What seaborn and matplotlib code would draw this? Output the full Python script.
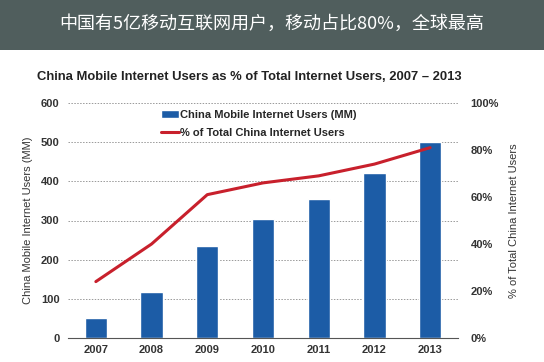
import numpy as np
import pandas as pd
import matplotlib
matplotlib.use("Agg")
import matplotlib.pyplot as plt
import seaborn as sns
from matplotlib.ticker import FuncFormatter, MultipleLocator, FixedLocator

# Data
years = ["2007", "2008", "2009", "2010", "2011", "2012", "2013"]
mobile_users = [50, 117, 235, 304, 355, 420, 500]        # MM
pct_of_total = [24, 40, 61, 66, 69, 74, 81]              # %

banner_text = "中国有5亿移动互联网用户，移动占比80%，全球最高"
chart_title = "China Mobile Internet Users as % of Total Internet Users, 2007 – 2013"

sns.set_style("white")
plt.rcParams['font.family'] = ['Liberation Sans', 'DejaVu Sans']

bar_color = "#1c5ca6"
line_color = "#c8202c"
text_color = "#333333"

df = pd.DataFrame({"Year": years, "Users": mobile_users, "Pct": pct_of_total})

fig = plt.figure(figsize=(5.44, 3.62), dpi=100)
fig.patch.set_facecolor("white")

# dark banner on top
fig.patches.append(plt.Rectangle((0, 1 - 50 / 362), 1, 50 / 362, transform=fig.transFigure,
                                 facecolor="#505e5d", edgecolor="none", zorder=0))
fig.text(0.5, 1 - 24 / 362, banner_text, color="white", fontsize=13, ha="center", va="center",
         family=['Noto Sans CJK SC', 'DejaVu Sans'])

fig.text(0.068, 1 - 77 / 362, chart_title, fontsize=9.4, fontweight="bold", color="#222222",
         ha="left", va="center")

ax = fig.add_axes([68 / 544, 24 / 362, 390 / 544, 235 / 362])
sns.barplot(data=df, x="Year", y="Users", color=bar_color, width=0.4, ax=ax,
            label="China Mobile Internet Users (MM)", saturation=1)
ax.set_ylim(0, 600)
ax.set_xlim(-0.5, 6.5)
ax.yaxis.set_major_locator(MultipleLocator(100))
ax.grid(axis="y", linestyle=(0, (1.5, 1.5)), color="#999999", linewidth=0.7)
ax.set_axisbelow(True)
for s in ["top", "right", "left"]:
    ax.spines[s].set_visible(False)
ax.spines["bottom"].set_color("#555555")
ax.set_xlabel("")
ax.set_ylabel("China Mobile Internet Users (MM)", fontsize=8, color=text_color, labelpad=6)
ax.tick_params(axis="x", length=0, labelsize=8, pad=5)
ax.tick_params(axis="y", length=0, labelsize=8, pad=6)
ax.xaxis.set_minor_locator(FixedLocator(np.arange(-0.5, 7, 1)))
ax.tick_params(axis="x", which="minor", length=4, direction="out", color="#555555")
for lbl in ax.get_xticklabels() + ax.get_yticklabels():
    lbl.set_fontweight("bold")
    lbl.set_color(text_color)

ax2 = ax.twinx()
sns.lineplot(x=np.arange(len(years)), y=pct_of_total, color=line_color, linewidth=2.2, ax=ax2,
             label="% of Total China Internet Users")
ax2.set_ylim(0, 100)
ax2.set_xlim(-0.5, 6.5)
ax2.yaxis.set_major_locator(MultipleLocator(20))
ax2.yaxis.set_major_formatter(FuncFormatter(lambda v, p: f"{v:.0f}%"))
for s in ["top", "right", "left", "bottom"]:
    ax2.spines[s].set_visible(False)
ax2.tick_params(axis="y", length=0, labelsize=8, pad=9)
ax2.set_ylabel("% of Total China Internet Users", fontsize=8, color=text_color, labelpad=7)
for lbl in ax2.get_yticklabels():
    lbl.set_fontweight("bold")
    lbl.set_color(text_color)

# combined legend
h1, l1 = ax.get_legend_handles_labels()
h2, l2 = ax2.get_legend_handles_labels()
ax.legend_ = None
ax2.legend(h1 + h2, l1 + l2, loc="upper left", bbox_to_anchor=(0.225, 0.995), frameon=False,
           handlelength=1.6, handletextpad=0.1, borderaxespad=0.1, labelspacing=0.7,
           prop={"weight": "bold", "size": 8})

fig.savefig("out.png", dpi=100)
